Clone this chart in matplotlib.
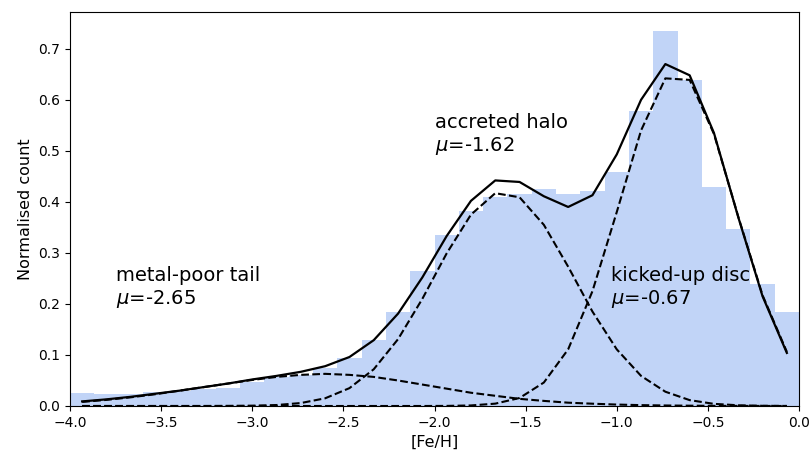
import numpy as np
import matplotlib.pyplot as plt

# histogram of [Fe/H], 30 bins between -4 and 0
bin_edges = np.linspace(-4.0, 0.0, 31)
bin_centres = 0.5 * (bin_edges[1:] + bin_edges[:-1])

hist_counts = [0.025, 0.023, 0.024, 0.027, 0.030, 0.033, 0.035, 0.048, 0.056, 0.060,
               0.074, 0.095, 0.130, 0.184, 0.264, 0.335, 0.383, 0.410, 0.415, 0.425,
               0.416, 0.421, 0.459, 0.578, 0.735, 0.639, 0.429, 0.346, 0.240, 0.184]

# gaussian mixture components evaluated at the bin centres
tail_comp = [0.008, 0.012, 0.017, 0.023, 0.030, 0.037, 0.044, 0.051, 0.057, 0.061,
             0.063, 0.061, 0.057, 0.050, 0.042, 0.034, 0.026, 0.020, 0.014, 0.010,
             0.0065, 0.0045, 0.0028, 0.0017, 0.001, 0.0006, 0.0003, 0.0002, 0.0001, 0.0]
halo_comp = [0.0, 0.0, 0.0, 0.0, 0.0, 0.0, 0.0002, 0.0006, 0.0019, 0.0058,
             0.0151, 0.035, 0.072, 0.131, 0.210, 0.299, 0.375, 0.417, 0.409, 0.355,
             0.273, 0.185, 0.111, 0.059, 0.028, 0.0115, 0.0042, 0.0014, 0.0004, 0.0001]
disc_comp = [0.0, 0.0, 0.0, 0.0, 0.0, 0.0, 0.0, 0.0, 0.0, 0.0,
             0.0, 0.0, 0.0, 0.0, 0.0, 0.0002, 0.0011, 0.0046, 0.0157, 0.046,
             0.111, 0.225, 0.380, 0.540, 0.642, 0.639, 0.533, 0.371, 0.217, 0.106]
total_fit = [0.009, 0.013, 0.018, 0.024, 0.030, 0.037, 0.044, 0.052, 0.059, 0.067,
             0.078, 0.096, 0.129, 0.181, 0.252, 0.333, 0.402, 0.442, 0.439, 0.411,
             0.390, 0.413, 0.493, 0.600, 0.670, 0.648, 0.535, 0.370, 0.215, 0.104]

labels = ['metal-poor tail\n$\\mu$=-2.65', 'accreted halo\n$\\mu$=-1.62', 'kicked-up disc\n$\\mu$=-0.67']
label_pos = [(-3.75, 0.2), (-2.0, 0.5), (-1.03, 0.2)]

fig = plt.figure(figsize=(8.12, 4.57), dpi=100)
ax = fig.add_axes([0.0862, 0.1116, 0.8978, 0.8621])

ax.hist(bin_centres, bins=bin_edges, weights=hist_counts, color='cornflowerblue', alpha=0.4)
ax.plot(bin_centres, total_fit, 'k-', lw=1.6)
for comp in [tail_comp, halo_comp, disc_comp]:
    ax.plot(bin_centres, comp, 'k--', lw=1.5)

for lab, (x, y) in zip(labels, label_pos):
    ax.text(x, y, lab, fontsize=14)

ax.set_xlim(-4, 0)
ax.set_ylim(0, 0.772)
ax.set_xlabel('[Fe/H]', fontsize=11.5)
ax.set_ylabel('Normalised count', fontsize=11.5)

plt.savefig('out.png', dpi=100)
